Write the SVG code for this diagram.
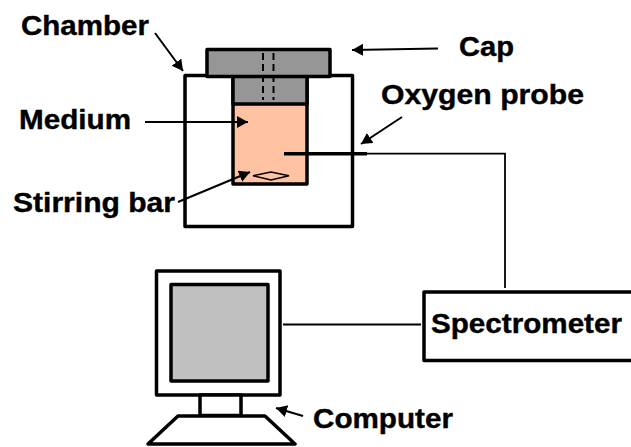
<svg xmlns="http://www.w3.org/2000/svg" width="631" height="447" viewBox="0 0 631 447">
<style>
.k{fill:none;stroke:#000;stroke-width:3.5;stroke-linejoin:round}
.t{font-family:"Liberation Sans",Arial,sans-serif;font-weight:700;font-size:28px;fill:#000;stroke:#000;stroke-width:.4}
.a{fill:none;stroke:#000;stroke-width:2}
.w{fill:none;stroke:#000;stroke-width:1.800}
</style>
<defs>
<marker id="h" markerUnits="userSpaceOnUse" markerWidth="14" markerHeight="14" refX="11" refY="6" orient="auto"><path d="M0 0L11 6L0 12Z" fill="#000"/></marker>
</defs>
<rect width="631" height="447" fill="#fff"/>
<g id="chamber"><rect class="k" x="185" y="75.500" width="167.500" height="151" style="fill:#fff"/><text class="t" x="21" y="35" textLength="128" lengthAdjust="spacingAndGlyphs">Chamber</text></g>
<g id="medium"><rect x="233" y="76" width="74" height="108" class="k" style="fill:#ffc3a3"/><text class="t" x="19" y="129" textLength="112" lengthAdjust="spacingAndGlyphs">Medium</text></g>
<g id="cap"><rect x="233" y="76" width="74" height="28" class="k" style="fill:#969696"/><rect x="207" y="49.500" width="123" height="27" class="k" style="fill:#969696"/>
<path d="M263 53V100M273.500 53V100" fill="none" stroke="#000" stroke-width="2" stroke-dasharray="7 4"/><text class="t" x="459" y="56" textLength="55" lengthAdjust="spacingAndGlyphs">Cap</text></g>
<g id="stirring-bar"><path d="M253 175.700L271 172L289 175.700L271 180Z" fill="none" stroke="#000" stroke-width="1.500"/><text class="t" x="13" y="212" textLength="162" lengthAdjust="spacingAndGlyphs">Stirring bar</text></g>
<g id="oxygen-probe"><path d="M284 153.700H367" fill="none" stroke="#000" stroke-width="3.500"/><text class="t" x="381" y="104" textLength="203" lengthAdjust="spacingAndGlyphs">Oxygen probe</text></g>
<g id="spectrometer"><rect class="k" x="424" y="292" width="230" height="68.500" style="fill:#fff"/><text class="t" x="431" y="333" textLength="191" lengthAdjust="spacingAndGlyphs">Spectrometer</text></g>
<g id="computer"><rect class="k" x="156.500" y="271" width="123.500" height="124" style="fill:#fff"/><rect class="k" x="171" y="284.500" width="97" height="96.500" style="fill:#c0c0c0"/><rect class="k" x="200" y="395" width="41" height="20.500" style="fill:#fff"/><path class="k" d="M178 416H265L295 444H148Z" style="fill:#fff"/><text class="t" x="313" y="428" textLength="140" lengthAdjust="spacingAndGlyphs">Computer</text></g>
<g id="connectors">
<path class="a" d="M155 33L183 71" marker-end="url(#h)"/>
<path class="a" d="M438 48.500L352 50" marker-end="url(#h)"/>
<path class="a" d="M145 122H248" marker-end="url(#h)"/>
<path class="a" d="M178 202L250 172" marker-end="url(#h)"/>
<path class="a" d="M402 117L361 144" marker-end="url(#h)"/>
<path class="a" d="M303 416L276 408" marker-end="url(#h)"/>
<path class="w" d="M367 153.700H505V288"/>
<path class="w" d="M283 324.500H421"/>
</g>
</svg>
